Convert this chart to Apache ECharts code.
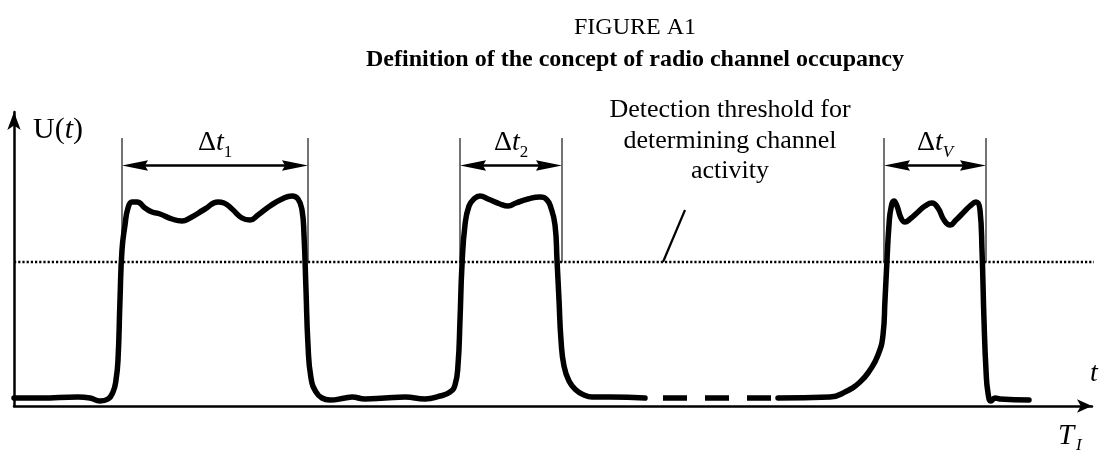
<!DOCTYPE html>
<html>
<head>
<meta charset="utf-8">
<script src="https://cdn.jsdelivr.net/npm/echarts@6/dist/echarts.min.js"></script>
<style>
html,body{margin:0;padding:0;background:#fff;}
#chart{width:1100px;height:450px;}
</style>
</head>
<body>
<div id="chart"></div>
<script>
// ---- data (time units along t, signal level U(t)) ----
const seg1Time  = [0,26,64,76,86,94,99,102,104,106,108,111,114,118,123,131,138,146,158,168,176,191,204,210,218,228,236,244,256,268,278,284,288,290,292,294,297,302,308,316,331,338,351,371,391,411,426,436,441,444,446,448,451,455,460,466,474,486,494,502,514,526,533,537,541,543,545,547,550,555,562,570,578,596,631];
const seg1Level = [8,8,9,8,5,7,14,26,46,106,156,181,198,204,204,198,194,192,187,185,188,197,204,203,197,188,186,191,200,207,210,207,196,171,116,61,28,14,8,6,8,9,7,8,9,7,10,14,21,41,86,141,181,200,207,210,207,202,200,203,207,209,206,198,181,146,106,66,40,25,16,11,9,9,8];
const gapTime   = [649,757];
const gapLevel  = [8,8];
const seg3Time  = [764,816,831,846,856,864,869,871,873,875,877,880,883,887,891,896,904,911,918,924,930,936,942,948,956,962,966,968,970,972,974,977,981,986,1015];
const seg3Level = [8,9,14,24,36,51,71,106,146,181,198,205,200,188,184,187,194,200,203,198,186,181,186,192,200,204,196,156,86,36,13,5,8,7,6];
const thresholdLevel = 144;
const thresholdSpan  = [0,1085];
const pointerTime  = [671,649];
const pointerLevel = [196,144];
const pulseStart = [108,446,870];
const pulseEnd   = [294,548,972];
const pulseSub   = ['1','2','V'];
const arrowLevel = 240.5;
const guideTop = 268;
const guideBottom = 144;
const figureTitle = 'FIGURE A1';
const figureSubtitle = 'Definition of the concept of radio channel occupancy';
const noteLines = ['Detection threshold for','determining channel','activity'];

const zip = (a,b) => a.map((v,i)=>[v,b[i]]);
const SERIF = '"Liberation Serif","Times New Roman",serif';

const chart = echarts.init(document.getElementById('chart'), null, {renderer:'canvas'});

const curveStyle = {color:'#000', width:5.5, cap:'round', join:'round'};

const option = {
  animation:false,
  backgroundColor:'#fff',
  grid:{left:14, top:112, width:1078, height:294},
  xAxis:{type:'value', min:0, max:1078,
    axisLine:{show:true, onZero:true, symbol:['none','arrow'], symbolSize:[10,15], lineStyle:{color:'#000', width:2.5}},
    axisTick:{show:false}, axisLabel:{show:false}, splitLine:{show:false}},
  yAxis:{type:'value', min:0, max:294,
    axisLine:{show:true, onZero:true, symbol:['none','arrow'], symbolSize:[10,18], lineStyle:{color:'#000', width:2.5}},
    axisTick:{show:false}, axisLabel:{show:false}, splitLine:{show:false}},
  series:[
    {type:'line', data: zip(thresholdSpan,[thresholdLevel,thresholdLevel]), symbol:'none', clip:false, z:1,
      lineStyle:{color:'#000', width:2.4, type:[2.2,2]}},
    {type:'line', data: zip(pointerTime,pointerLevel), symbol:'none', z:2,
      lineStyle:{color:'#000', width:2.2}},
    {type:'line', data: zip(seg1Time,seg1Level), symbol:'none', smooth:0.5, z:3, lineStyle:curveStyle},
    {type:'line', data: zip(gapTime,gapLevel), symbol:'none', z:3, lineStyle:{color:'#000', width:5.5, type:[24,18]}},
    {type:'line', data: zip(seg3Time,seg3Level), symbol:'none', smooth:0.5, z:3, lineStyle:curveStyle},
    {type:'custom', z:4, clip:false,
      data: pulseStart.map((s,i)=>[s,pulseEnd[i]]),
      encode:{x:[0,1]},
      renderItem:function(params, api){
        const s = api.coord([api.value(0), arrowLevel]);
        const e = api.coord([api.value(1), arrowLevel]);
        const top = api.coord([api.value(0), guideTop])[1];
        const bot = api.coord([api.value(0), guideBottom])[1];
        const y = s[1];
        const L = 26, H = 5.2;
        const sub = pulseSub[params.dataIndex];
        const subW = sub === 'V' ? 10.5 : 8.5;
        const total = 17.1 + 8.3 + subW;
        const cx = (s[0]+e[0])/2;
        const x0 = cx - total/2;
        return {type:'group', children:[
          {type:'line', shape:{x1:s[0],y1:top,x2:s[0],y2:bot}, style:{stroke:'#000', lineWidth:1.1}},
          {type:'line', shape:{x1:e[0],y1:top,x2:e[0],y2:bot}, style:{stroke:'#000', lineWidth:1.1}},
          {type:'line', shape:{x1:s[0]+L-3,y1:y,x2:e[0]-L+3,y2:y}, style:{stroke:'#000', lineWidth:2.6}},
          {type:'polygon', shape:{points:[[s[0],y],[s[0]+L,y-H],[s[0]+L-3,y],[s[0]+L,y+H]]}, style:{fill:'#000'}},
          {type:'polygon', shape:{points:[[e[0],y],[e[0]-L,y-H],[e[0]-L+3,y],[e[0]-L,y+H]]}, style:{fill:'#000'}},
          {type:'text', x:x0, y:y-23, style:{text:'{d|Δ}{t|t}', align:'left', verticalAlign:'middle', textAlign:'left', textVerticalAlign:'middle',
            rich:{d:{fontFamily:SERIF, fontSize:28, fill:'#000', color:'#000'}, t:{fontFamily:SERIF, fontSize:28, fontStyle:'italic', fill:'#000', color:'#000'}}}},
          {type:'text', x:x0+25.6, y:y-13, style:{text:sub, font:(sub==='V'?'italic ':'')+'17px '+SERIF, fill:'#000', align:'left', verticalAlign:'middle', textAlign:'left', textVerticalAlign:'middle'}}
        ]};
      }
    }
  ],
  graphic:[
    {type:'text', x:635, y:28, style:{text:figureTitle, font:'24px '+SERIF, fill:'#000', align:'center', verticalAlign:'middle', textAlign:'center', textVerticalAlign:'middle'}},
    {type:'text', x:635, y:60, style:{text:figureSubtitle, font:'bold 24px '+SERIF, fill:'#000', align:'center', verticalAlign:'middle', textAlign:'center', textVerticalAlign:'middle'}},
    {type:'text', x:730, y:110, style:{text:noteLines[0], font:'26px '+SERIF, fill:'#000', align:'center', verticalAlign:'middle', textAlign:'center', textVerticalAlign:'middle'}},
    {type:'text', x:730, y:141, style:{text:noteLines[1], font:'26px '+SERIF, fill:'#000', align:'center', verticalAlign:'middle', textAlign:'center', textVerticalAlign:'middle'}},
    {type:'text', x:730, y:171, style:{text:noteLines[2], font:'26px '+SERIF, fill:'#000', align:'center', verticalAlign:'middle', textAlign:'center', textVerticalAlign:'middle'}},
    {type:'text', x:33, y:130, style:{text:'{a|U(}{b|t}{a|)}', align:'left', verticalAlign:'middle', textAlign:'left', textVerticalAlign:'middle',
      rich:{a:{fontFamily:SERIF, fontSize:30, fill:'#000', color:'#000'}, b:{fontFamily:SERIF, fontSize:30, fontStyle:'italic', fill:'#000', color:'#000'}}}},
    {type:'text', x:1094, y:374, style:{text:'t', font:'italic 28px '+SERIF, fill:'#000', align:'center', verticalAlign:'middle', textAlign:'center', textVerticalAlign:'middle'}},
    {type:'text', x:1058, y:436, style:{text:'T', font:'italic 29px '+SERIF, fill:'#000', align:'left', verticalAlign:'middle', textAlign:'left', textVerticalAlign:'middle'}},
    {type:'text', x:1076, y:446, style:{text:'I', font:'italic 17px '+SERIF, fill:'#000', align:'left', verticalAlign:'middle', textAlign:'left', textVerticalAlign:'middle'}}
  ]
};
chart.setOption(option);
</script>
</body>
</html>
